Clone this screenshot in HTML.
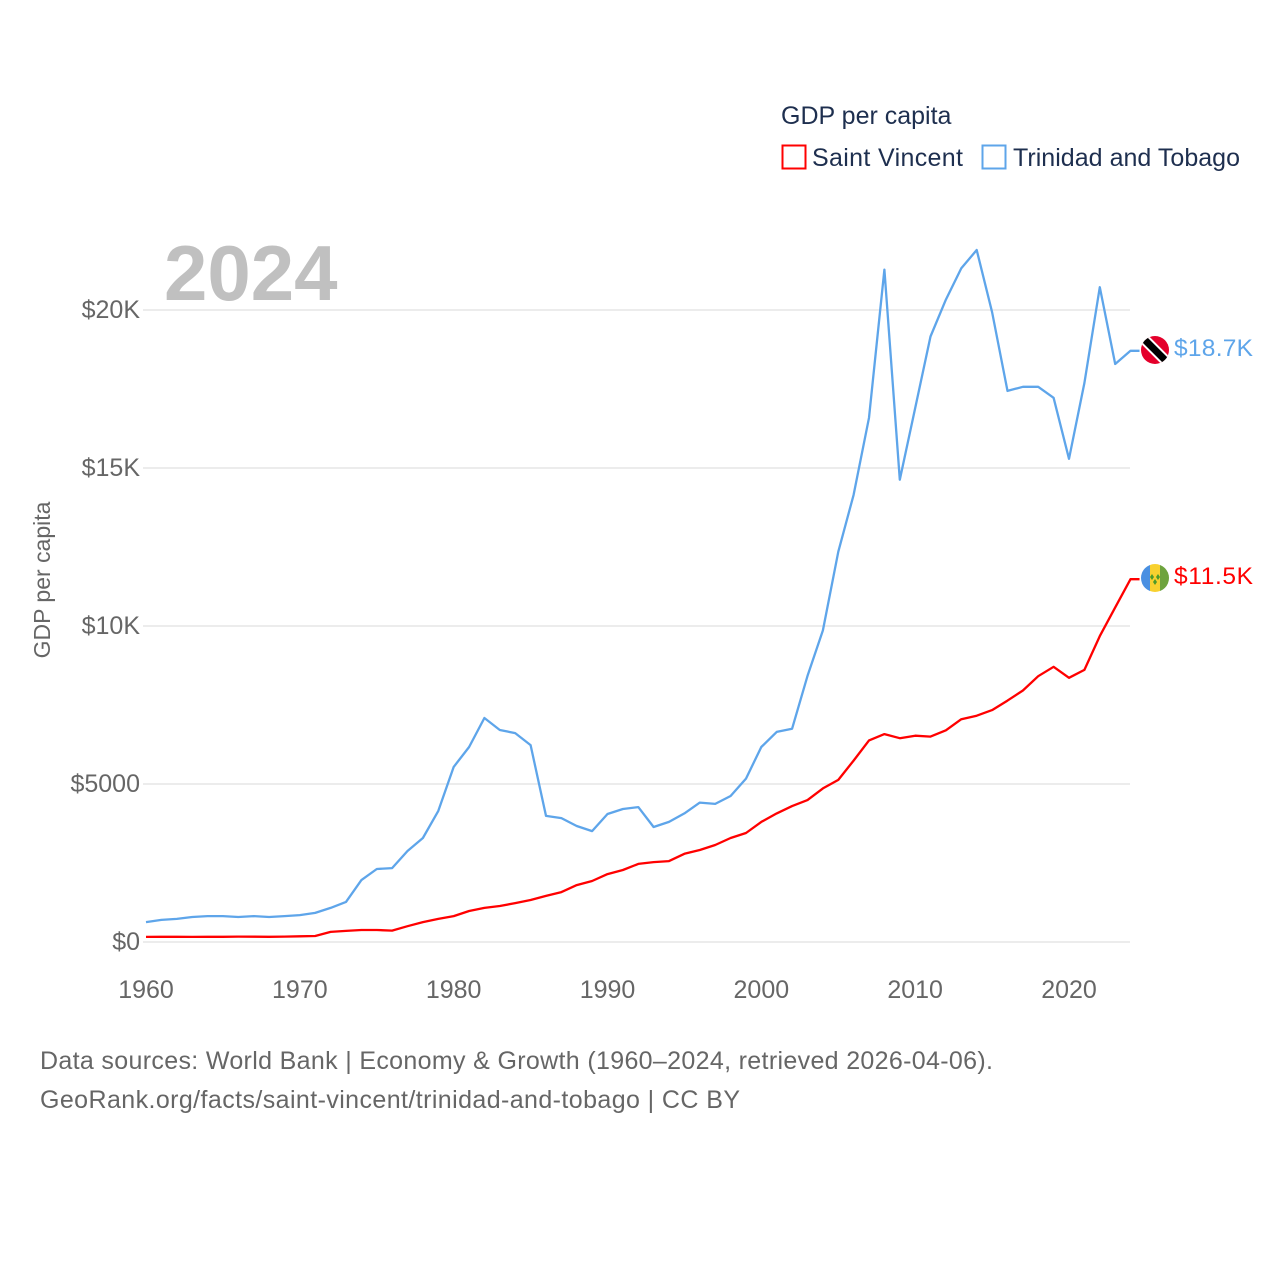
<!DOCTYPE html>
<html><head><meta charset="utf-8"><style>
html,body{margin:0;padding:0;background:#fff;}
svg text{font-family:"Liberation Sans",sans-serif;}
</style></head><body>
<svg id="chart" width="1280" height="1280" viewBox="0 0 1280 1280" xmlns="http://www.w3.org/2000/svg">
<text x="781" y="124" font-size="25" fill="#1e2f4f">GDP per capita</text>
<rect x="782.5" y="145.5" width="23" height="23" fill="none" stroke="#ff0000" stroke-width="2"/>
<text x="812" y="166" font-size="25" fill="#1e2f4f" textLength="151">Saint Vincent</text>
<rect x="982.5" y="145.5" width="23" height="23" fill="none" stroke="#5ea5ea" stroke-width="2"/>
<text x="1013" y="166" font-size="25" fill="#1e2f4f" textLength="227">Trinidad and Tobago</text>
<text x="164" y="300" font-size="78" font-weight="bold" fill="#c0c0c0">2024</text>
<text transform="translate(50,580) rotate(-90)" text-anchor="middle" font-size="23" fill="#666">GDP per capita</text>
<g id="grid"></g><g id="xt"></g><g id="lines"></g>
<g>
<clipPath id="cpT"><circle cx="1155" cy="350" r="14"/></clipPath>
<g clip-path="url(#cpT)"><rect x="1141" y="336" width="28" height="28" fill="#e4002b"/><line x1="1141" y1="336" x2="1169" y2="364" stroke="#fff" stroke-width="11"/><line x1="1141" y1="336" x2="1169" y2="364" stroke="#000" stroke-width="7"/></g></g>
<g>
<clipPath id="cpS"><circle cx="1155" cy="578" r="14"/></clipPath>
<g clip-path="url(#cpS)"><rect x="1141" y="564" width="9" height="28" fill="#4a90e2"/><rect x="1150" y="564" width="10" height="28" fill="#f8d12f"/><rect x="1160" y="564" width="9" height="28" fill="#6ea33e"/><path d="M1152 574l2 3-2 3-2-3zM1158 574l2 3-2 3-2-3zM1155 579l2 3-2 3-2-3z" fill="#4c9a2a"/></g></g>
<text x="1174" y="356" font-size="24.5" fill="#5ea5ea" textLength="79">$18.7K</text>
<text x="1174" y="584" font-size="24.5" fill="#ff0000" textLength="79">$11.5K</text>
<text x="40" y="1069" font-size="25" fill="#666" textLength="953">Data sources: World Bank | Economy &amp; Growth (1960–2024, retrieved 2026-04-06).</text>
<text x="40" y="1108" font-size="25" fill="#666" textLength="700">GeoRank.org/facts/saint-vincent/trinidad-and-tobago | CC BY</text>
</svg>
<script>
const years=[];for(let y=1960;y<=2024;y++)years.push(y);
const trinidad=[630,700,730,790,820,820,790,820,790,820,850,920,1080,1270,1960,2310,2340,2880,3290,4150,5540,6170,7090,6710,6610,6230,3990,3920,3670,3510,4050,4210,4270,3640,3800,4070,4410,4370,4620,5170,6170,6650,6750,8420,9860,12350,14150,16590,21280,14630,16900,19160,20330,21320,21900,19930,17440,17570,17570,17220,15290,17690,20720,18290,18710];
const saintVincent=[160,165,165,160,165,165,170,168,165,170,180,190,320,350,380,380,360,500,630,730,820,980,1080,1140,1230,1330,1460,1580,1800,1930,2150,2280,2470,2530,2560,2790,2910,3070,3290,3450,3800,4070,4300,4490,4860,5130,5740,6380,6580,6450,6530,6500,6700,7050,7160,7340,7640,7960,8410,8710,8360,8610,9680,10590,11480];
const yTicks=[0,5000,10000,15000,20000];
const yTickLabels=["$0","$5000","$10K","$15K","$20K"];
const xTicks=[1960,1970,1980,1990,2000,2010,2020];
const NS="http://www.w3.org/2000/svg";
const xs=y=>146+(y-1960)*923/60;
const ys=v=>942-v*632/20000;
function mk(t,a,p){const e=document.createElementNS(NS,t);for(const k in a)e.setAttribute(k,a[k]);p.appendChild(e);return e;}
const grid=document.getElementById('grid');
yTicks.forEach((v,i)=>{
 const l=mk('line',{x1:143,x2:1130,y1:ys(v),y2:ys(v),stroke:'#e6e6e6','stroke-width':1.5},grid);
 
 
 const t=mk('text',{x:140,y:ys(v)+8,'text-anchor':'end','font-size':25,fill:'#666'},grid);
 t.textContent=yTickLabels[i];
 
 
});
const xt=document.getElementById('xt');
xTicks.forEach(y=>{
 const t=mk('text',{x:xs(y),y:998,'text-anchor':'middle','font-size':25,fill:'#666'},xt);
 t.textContent=y;
 
 
});
const lines=document.getElementById('lines');
function draw(vals,color,name){
 let d=vals.map((v,i)=>(i?'L':'M')+xs(years[i]).toFixed(1)+' '+ys(v).toFixed(1)).join(' ');
 d+=' L'+(xs(2024)+9)+' '+ys(vals[vals.length-1]).toFixed(1);
 const p=mk('path',{d:d,fill:'none',stroke:color,'stroke-width':2.3,'stroke-linejoin':'round'},lines);
 
 
}
draw(trinidad,'#5ea5ea','line-trinidad');
draw(saintVincent,'#ff0000','line-saint-vincent');
</script>
</body></html>
